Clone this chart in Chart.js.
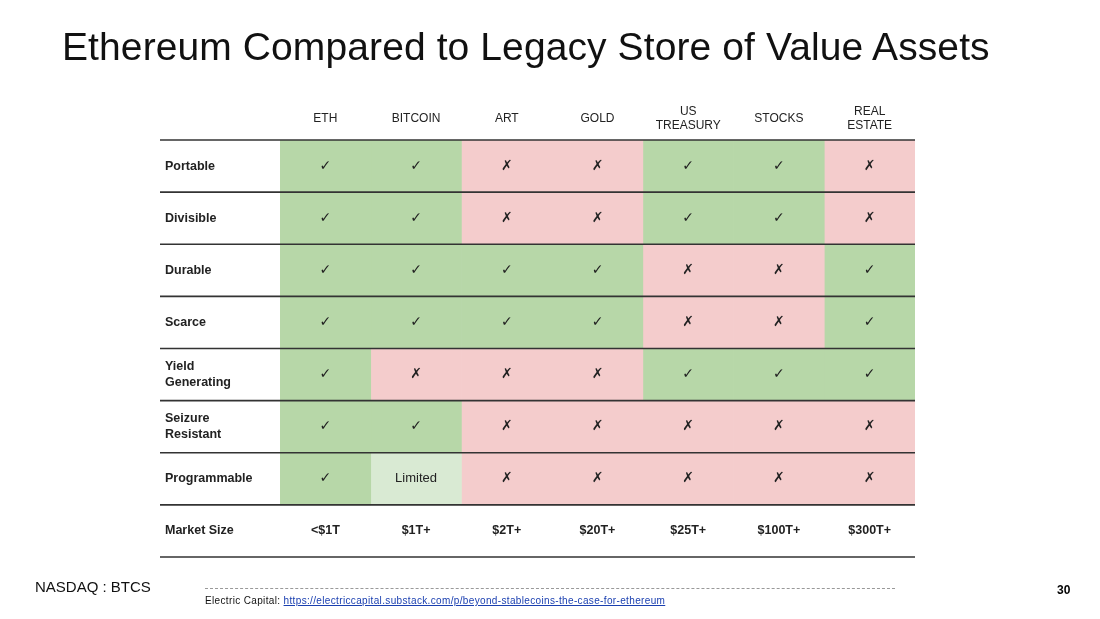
<!DOCTYPE html>
<html>
<head>
<meta charset="utf-8">
<script src="https://cdn.jsdelivr.net/npm/chart.js@4"></script>
<style>
  body { margin: 0; width: 1100px; height: 619px; background: #fff; position: relative; overflow: hidden; font-family: "Liberation Sans", Arial, sans-serif; }
  #wrap { position: absolute; left: 0; top: 0; width: 1100px; height: 619px; }
  h1 { position: absolute; left: 62px; top: 25px; margin: 0; font-weight: normal; font-size: 39px; color: #111; letter-spacing: 0.1px; }
  .nasdaq { position: absolute; left: 35px; top: 578px; font-size: 15px; color: #111; }
  .dash { position: absolute; left: 205px; top: 588px; width: 690px; border-top: 1px dashed #999; }
  .src { position: absolute; left: 205px; top: 595px; font-size: 10px; letter-spacing: 0.35px; color: #111; }
  .src a { color: #1a3fb0; }
  .page { position: absolute; left: 1057px; top: 583px; font-size: 12px; font-weight: bold; }
</style>
</head>
<body>
<div id="wrap"><canvas id="c" width="1100" height="619"></canvas></div>
<h1>Ethereum Compared to Legacy Store of Value Assets</h1>
<div class="nasdaq">NASDAQ : BTCS</div>
<div class="dash"></div>
<div class="src">Electric Capital: <a href="#">https://electriccapital.substack.com/p/beyond-stablecoins-the-case-for-ethereum</a></div>
<div class="page">30</div>
<script>
// Table content
const columns = ["ETH", "BITCOIN", "ART", "GOLD", "US\nTREASURY", "STOCKS", "REAL\nESTATE"];
const rows = ["Portable", "Divisible", "Durable", "Scarce", "Yield\nGenerating", "Seizure\nResistant", "Programmable", "Market Size"];
// y = yes, n = no, l = limited; one string per row, one letter per column
const cells = [
  "yynnyyn",
  "yynnyyn",
  "yyyynny",
  "yyyynny",
  "ynnnyyy",
  "yynnnnn",
  "ylnnnnn",
];
const marketSize = ["<$1T", "$1T+", "$2T+", "$20T+", "$25T+", "$100T+", "$300T+"];

const fill = { y: "#b7d7a8", n: "#f4cccc", l: "#d9ead3" };
const mark = { y: "✓", n: "✗", l: "Limited" };

const datasets = columns.map((col, ci) => ({
  label: col,
  data: rows.map(() => 1),
  backgroundColor: rows.map((r, ri) => ri < cells.length ? fill[cells[ri][ci]] : "rgba(0,0,0,0)"),
  borderWidth: 0,
  barPercentage: 1,
  categoryPercentage: 1,
}));

const tablePlugin = {
  id: "table",
  afterDatasetsDraw(chart) {
    const ctx = chart.ctx;
    const x = chart.scales.x, y = chart.scales.y;
    const area = chart.chartArea;
    const rowH = (area.bottom - area.top) / rows.length;
    ctx.save();
    ctx.fillStyle = "#222";
    ctx.textBaseline = "middle";
    // header
    ctx.textAlign = "center";
    ctx.font = "12px 'Liberation Sans', Arial, sans-serif";
    columns.forEach((c, ci) => {
      const cx = x.getPixelForValue(ci + 0.5);
      const lines = c.split("\n");
      lines.forEach((ln, li) => {
        ctx.fillText(ln, cx, area.top - 21 + (li - (lines.length - 1) / 2) * 14);
      });
    });
    // row labels
    ctx.textAlign = "left";
    ctx.font = "bold 12.5px 'Liberation Sans', Arial, sans-serif";
    rows.forEach((r, ri) => {
      const cy = y.getPixelForValue(ri);
      const lines = r.split("\n");
      lines.forEach((ln, li) => {
        ctx.fillText(ln, 165, cy + (li - (lines.length - 1) / 2) * 16);
      });
    });
    // cell marks
    ctx.textAlign = "center";
    rows.forEach((r, ri) => {
      const cy = y.getPixelForValue(ri);
      columns.forEach((c, ci) => {
        const cx = x.getPixelForValue(ci + 0.5);
        if (ri < cells.length) {
          const k = cells[ri][ci];
          ctx.font = k === "l" ? "13px 'Liberation Sans', Arial, sans-serif" : "bold 14px 'DejaVu Sans', sans-serif";
          ctx.fillText(mark[k], cx, cy);
        } else {
          ctx.font = "bold 12.5px 'Liberation Sans', Arial, sans-serif";
          ctx.fillText(marketSize[ci], cx, cy);
        }
      });
    });
    // separators
    ctx.strokeStyle = "#333";
    ctx.lineWidth = 1.6;
    for (let i = 0; i <= rows.length; i++) {
      const ly = area.top + i * rowH;
      ctx.beginPath();
      ctx.moveTo(160, ly);
      ctx.lineTo(area.right, ly);
      ctx.stroke();
    }
    ctx.restore();
  },
};

new Chart(document.getElementById("c"), {
  type: "bar",
  data: { labels: rows, datasets },
  options: {
    indexAxis: "y",
    responsive: false,
    animation: false,
    layout: { padding: { left: 280, right: 185, top: 140, bottom: 62 } },
    scales: {
      x: { stacked: true, min: 0, max: columns.length, display: false },
      y: { stacked: true, display: false },
    },
    plugins: { legend: { display: false }, tooltip: { enabled: false } },
  },
  plugins: [tablePlugin],
});
</script>
</body>
</html>
